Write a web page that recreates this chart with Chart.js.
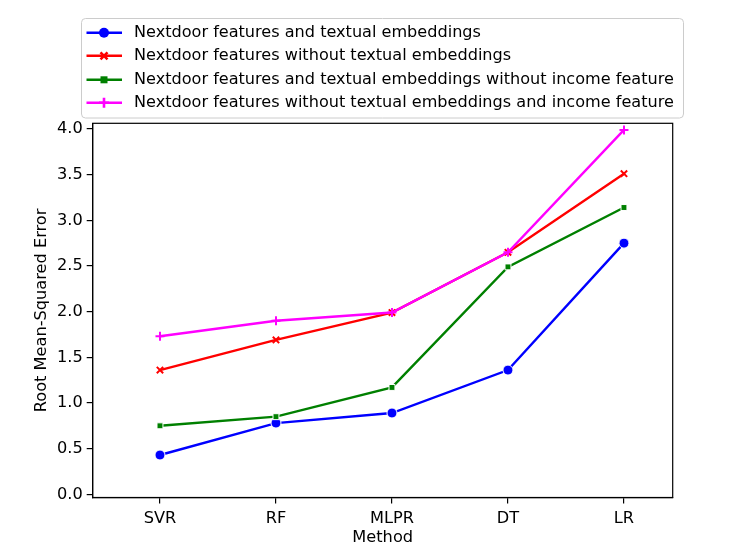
<!DOCTYPE html>
<html><head><meta charset="utf-8">
<script src="https://cdn.jsdelivr.net/npm/chart.js@4.4.0/dist/chart.umd.min.js"></script>
<style>html,body{margin:0;padding:0;background:#fff}canvas{display:block}</style>
</head><body>
<canvas id="c" width="747" height="560"></canvas>
<script>
const methods = ['SVR', 'RF', 'MLPR', 'DT', 'LR'];
const seriesLabels = [
  'Nextdoor features and textual embeddings',
  'Nextdoor features without textual embeddings',
  'Nextdoor features and textual embeddings without income feature',
  'Nextdoor features without textual embeddings and income feature'
];
const withText = [0.43, 0.78, 0.89, 1.36, 2.75];
const withoutText = [1.36, 1.69, 1.99, 2.65, 3.51];
const withTextNoIncome = [0.75, 0.85, 1.17, 2.49, 3.14];
const withoutTextNoIncome = [1.73, 1.90, 1.99, 2.65, 3.99];
const yTicks = [0, 0.5, 1, 1.5, 2, 2.5, 3, 3.5, 4];

const FONT = 'DejaVu Sans';
const colors = ['#0000ff', '#ff0000', '#008000', '#ff00ff'];
const styles = ['circle', 'crossRot', 'rect', 'cross'];
const values = [withText, withoutText, withTextNoIncome, withoutTextNoIncome];

const datasets = values.map((vals, i) => {
  const filled = styles[i] === 'circle' || styles[i] === 'rect';
  return {
    label: seriesLabels[i],
    data: vals.map((v, k) => ({ x: k, y: v })),
    borderColor: colors[i],
    backgroundColor: colors[i],
    borderWidth: 2.4,
    pointStyle: styles[i],
    pointRadius: styles[i] === 'circle' ? 5 : (styles[i] === 'rect' ? 4.2 : 4.5),
    pointBorderColor: filled ? '#ffffff' : colors[i],
    pointBackgroundColor: colors[i],
    pointBorderWidth: filled ? 1 : 2,
    pointHoverRadius: 5,
    tension: 0,
    fill: false,
    order: 3 - i
  };
});

const frameAndLegend = {
  id: 'frameAndLegend',
  afterDraw(chart) {
    const ctx = chart.ctx;
    const a = chart.chartArea;
    ctx.save();
    ctx.strokeStyle = '#000';
    ctx.lineWidth = 1.2;
    ctx.strokeRect(a.left, a.top, a.right - a.left, a.bottom - a.top);

    // legend box
    const bx = 81.5, by = 18.5, bw = 602, bh = 99.5, r = 4;
    ctx.beginPath();
    ctx.moveTo(bx + r, by);
    ctx.lineTo(bx + bw - r, by);
    ctx.quadraticCurveTo(bx + bw, by, bx + bw, by + r);
    ctx.lineTo(bx + bw, by + bh - r);
    ctx.quadraticCurveTo(bx + bw, by + bh, bx + bw - r, by + bh);
    ctx.lineTo(bx + r, by + bh);
    ctx.quadraticCurveTo(bx, by + bh, bx, by + bh - r);
    ctx.lineTo(bx, by + r);
    ctx.quadraticCurveTo(bx, by, bx + r, by);
    ctx.closePath();
    ctx.fillStyle = 'rgba(255,255,255,0.8)';
    ctx.fill();
    ctx.strokeStyle = '#cccccc';
    ctx.lineWidth = 1;
    ctx.stroke();

    const rows = [32.7, 55.8, 79.8, 102.7];
    chart.data.datasets.forEach((ds, i) => {
      const y = rows[i];
      ctx.strokeStyle = ds.borderColor;
      ctx.lineWidth = 2.4;
      ctx.beginPath();
      ctx.moveTo(86.5, y);
      ctx.lineTo(122, y);
      ctx.stroke();
      const cx = 104;
      ctx.fillStyle = ds.borderColor;
      if (ds.pointStyle === 'circle') {
        ctx.beginPath(); ctx.arc(cx, y, 5, 0, Math.PI * 2); ctx.fill();
      } else if (ds.pointStyle === 'rect') {
        ctx.fillRect(cx - 3.5, y - 3.5, 7, 7);
      } else if (ds.pointStyle === 'crossRot') {
        ctx.lineWidth = 2.6;
        ctx.beginPath();
        ctx.moveTo(cx - 3.5, y - 3.5); ctx.lineTo(cx + 3.5, y + 3.5);
        ctx.moveTo(cx - 3.5, y + 3.5); ctx.lineTo(cx + 3.5, y - 3.5);
        ctx.stroke();
      } else {
        ctx.lineWidth = 2.6;
        ctx.beginPath();
        ctx.moveTo(cx - 5, y); ctx.lineTo(cx + 5, y);
        ctx.moveTo(cx, y - 5); ctx.lineTo(cx, y + 5);
        ctx.stroke();
      }
      ctx.fillStyle = '#000';
      ctx.font = '16.1px "' + FONT + '"';
      ctx.textAlign = 'left';
      ctx.textBaseline = 'middle';
      ctx.fillText(ds.label, 134, y + 0.5);
    });
    ctx.restore();
  }
};

const tickFont = { family: FONT, size: 16.2 };

new Chart(document.getElementById('c'), {
  type: 'line',
  data: { datasets },
  options: {
    responsive: false,
    animation: false,
    devicePixelRatio: 1,
    layout: { padding: { left: 0, top: 123.3, right: 74.3, bottom: 0 } },
    plugins: { legend: { display: false }, tooltip: { enabled: false } },
    scales: {
      x: {
        type: 'linear',
        min: -0.58,
        max: 4.42,
        afterBuildTicks: s => { s.ticks = methods.map((m, k) => ({ value: k })); },
        afterFit: s => { s.height = 62.5; },
        ticks: {
          callback: v => methods[v],
          font: tickFont, color: '#000', padding: 6, maxRotation: 0, autoSkip: false
        },
        grid: { display: true, drawOnChartArea: false, drawTicks: true, tickLength: 6, color: '#000', lineWidth: 1.2 },
        border: { display: true, color: '#000', width: 1.2 },
        title: { display: true, text: 'Method', font: tickFont, color: '#000', padding: { top: 0, bottom: 12 } }
      },
      y: {
        type: 'linear',
        min: -0.035,
        max: 4.062,
        afterBuildTicks: s => { s.ticks = yTicks.map(v => ({ value: v })); },
        afterFit: s => { s.width = 92.7; },
        ticks: {
          callback: v => v.toFixed(1),
          font: tickFont, color: '#000', padding: 4, autoSkip: false
        },
        grid: { display: true, drawOnChartArea: false, drawTicks: true, tickLength: 6, color: '#000', lineWidth: 1.2 },
        border: { display: true, color: '#000', width: 1.2 },
        title: { display: true, text: 'Root Mean-Squared Error', font: tickFont, color: '#000', padding: { top: 32, bottom: 0 } }
      }
    }
  },
  plugins: [frameAndLegend]
});
</script>
</body></html>
